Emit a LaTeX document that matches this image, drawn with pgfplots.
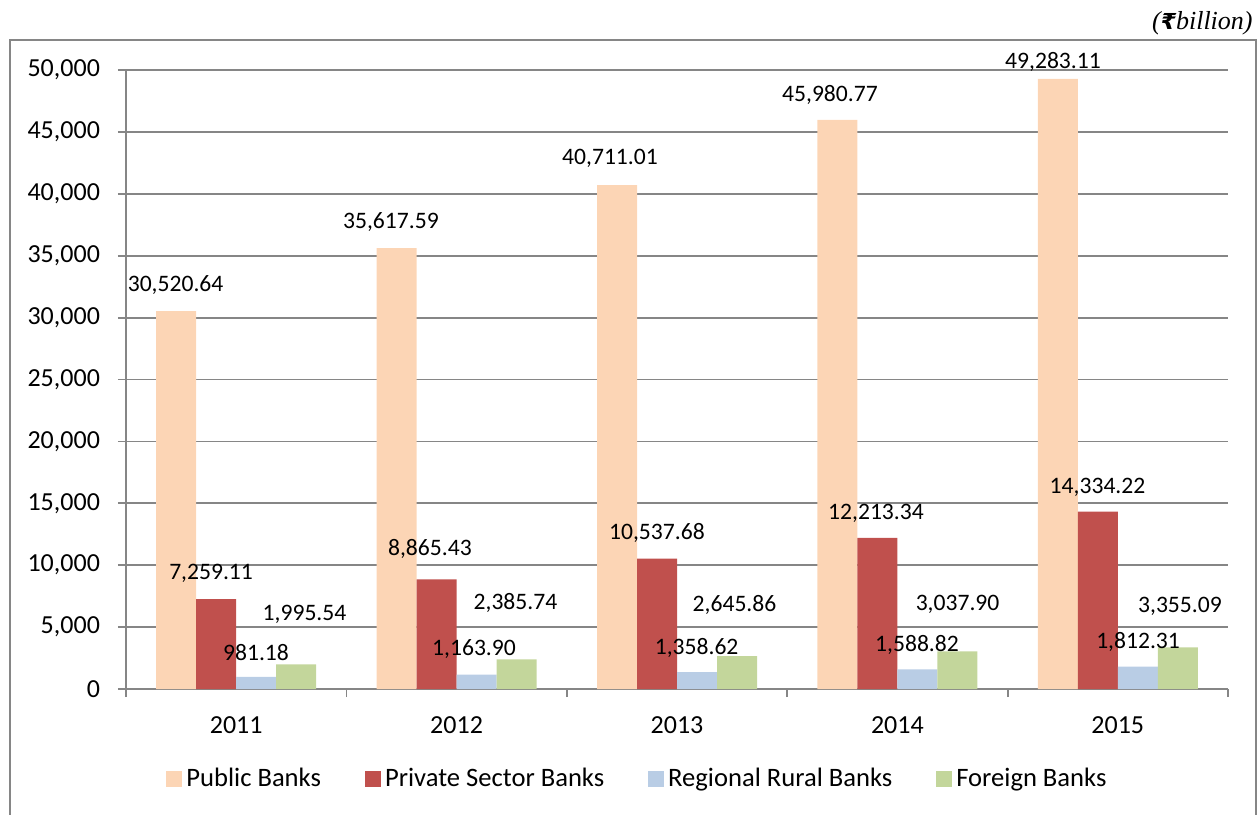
\documentclass[border=0pt]{standalone}
\usepackage{pgfplots}
\usepackage{pgfplotstable}
\pgfplotsset{compat=1.18}
\usepackage{fontspec}
\setmainfont{Carlito}
\newfontfamily\unitfont{Liberation Serif}
\newfontfamily\rupeefont{DejaVu Sans}

\definecolor{gridgray}{RGB}{134,134,134}
\definecolor{pubc}{RGB}{252,213,181}
\definecolor{privc}{RGB}{192,80,77}
\definecolor{rrbc}{RGB}{185,205,229}
\definecolor{forc}{RGB}{195,214,155}

% x, value, data label, and where that label sits (lx, ly in axis units)
\pgfplotstableread{
x y lbl lx ly
0 30520.64 30,520.64 -0.275 32633
1 35617.59 35,617.59 0.702 37722
2 40711.01 40,711.01 1.696 42892
3 45980.77 45,980.77 2.694 47980
4 49283.11 49,283.11 3.706 50646
}\publicdata
\pgfplotstableread{
x y lbl lx ly
0 7259.11 7,259.11 -0.114 9370
1 8865.43 8,865.43 0.879 11309
2 10537.68 10,537.68 1.909 12601
3 12213.34 12,213.34 2.903 14216
4 14334.22 14,334.22 3.908 16317
}\privatedata
\pgfplotstableread{
x y lbl lx ly
0 981.18 981.18 0.090 2948
1 1163.90 1,163.90 1.079 3231
2 1358.62 1,358.62 2.089 3312
3 1588.82 1,588.82 3.089 3554
4 1812.31 1,812.31 4.092 3796
}\rrbdata
\pgfplotstableread{
x y lbl lx ly
0 1995.54 1,995.54 0.310 6058
1 2385.74 2,385.74 1.267 6947
2 2645.86 2,645.86 2.261 6785
3 3037.90 3,037.90 3.273 6866
4 3355.09 3,355.09 4.282 6704
}\foreigndata

\pgfplotsset{
  bars/.style={ybar, bar width=20pt, draw=none,
    legend image code/.code={\fill[##1] (0pt,-4pt) rectangle (8pt,4pt);}},
  barlabels/.style={forget plot, draw=none, mark=none,
    point meta=explicit symbolic, nodes near coords,
    every node near coord/.append style={anchor=center, inner sep=0pt,
      font=\fontsize{11.8}{13}\selectfont, text=black}},
}

\begin{document}
\begin{tikzpicture}
\useasboundingbox (0,0) rectangle (628.5pt,407pt);
% outer chart frame (bottom edge lies below the page)
\draw[gridgray, line width=0.75pt] (5pt,-2pt) -- (5pt,387pt) -- (628pt,387pt) -- (628pt,-2pt);
\node[anchor=base east, inner sep=0pt, font=\unitfont\itshape\fontsize{13}{14}\selectfont] at (626.5pt,392pt) {({\rupeefont\bfseries\fontsize{11}{12}\selectfont ₹}billion)};

\begin{axis}[
  at={(63pt,62.5pt)}, anchor=south west,
  scale only axis, width=551pt, height=309.5pt,
  enlargelimits=false,
  xmin=-0.5, xmax=4.5, ymin=0, ymax=50000,
  xtick={0,1,2,3,4},
  xticklabels={2011,2012,2013,2014,2015},
  major x tick style={draw=none},
  minor xtick={-0.5,0.5,1.5,2.5,3.5,4.5},
  ytick={0,5000,...,50000},
  ymajorgrids,
  grid style={gridgray, line width=0.9pt},
  axis x line*=bottom, axis y line*=left,
  axis line style={gridgray, line width=0.9pt},
  tick align=outside,
  tick style={gridgray, line width=0.9pt},
  major tick length=4pt, minor tick length=4pt,
  tick label style={font=\fontsize{13}{14}\selectfont, text=black},
  /pgf/number format/assume math mode=true,
  yticklabel style={/pgf/number format/fixed, /pgf/number format/1000 sep={,}, /tikz/xshift=-5.5pt},
  xticklabel style={yshift=-6.5pt},
  scaled y ticks=false,
  clip=false,
  legend columns=4,
  legend cell align=left,
  legend style={at={(axis description cs:0.0363,-0.1454)}, anchor=west,
    draw=none, fill=none, inner sep=0pt,
    font=\fontsize{13.3}{14}\selectfont,
    nodes={inner xsep=2pt},
    /tikz/every even column/.append style={column sep=20pt}},
]
\addplot[bars, fill=pubc, bar shift=-30pt] table[x=x, y=y] {\publicdata};
\addlegendentry{Public Banks}
\addplot[bars, fill=privc, bar shift=-10pt] table[x=x, y=y] {\privatedata};
\addlegendentry{Private Sector Banks}
\addplot[bars, fill=rrbc, bar shift=10pt] table[x=x, y=y] {\rrbdata};
\addlegendentry{Regional Rural Banks}
\addplot[bars, fill=forc, bar shift=30pt] table[x=x, y=y] {\foreigndata};
\addlegendentry{Foreign Banks}

% data labels
\addplot[barlabels] table[x=lx, y=ly, meta=lbl] {\publicdata};
\addplot[barlabels] table[x=lx, y=ly, meta=lbl] {\privatedata};
\addplot[barlabels] table[x=lx, y=ly, meta=lbl] {\rrbdata};
\addplot[barlabels] table[x=lx, y=ly, meta=lbl] {\foreigndata};
\end{axis}
\end{tikzpicture}
\end{document}
